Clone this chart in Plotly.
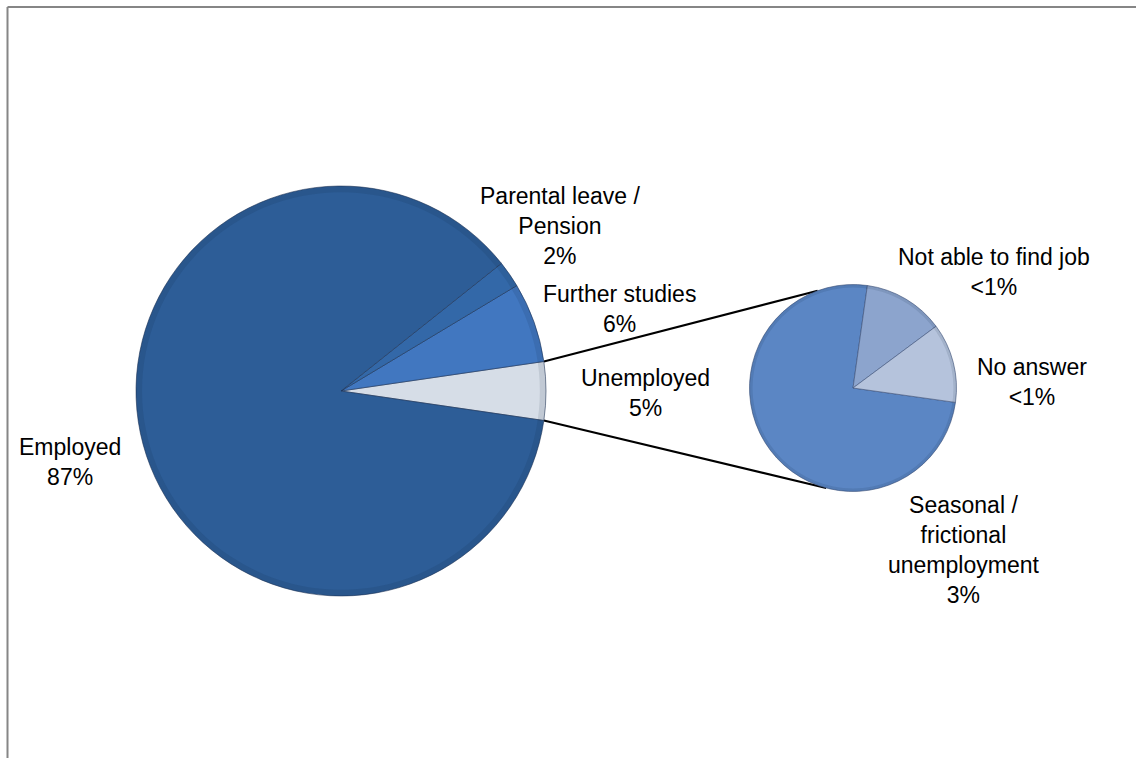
import math
import plotly.graph_objects as go

# Main pie: employment status of graduates (share of respondents, %)
main_labels = ["Unemployed", "Further studies", "Parental leave /<br>Pension", "Employed"]
main_values = [4.6, 6.3, 2.1, 87.0]
main_colors = ["#D6DDE7", "#4177C0", "#3368A8", "#2D5D97"]

# Secondary pie: breakdown of the "Unemployed" slice (share of respondents, %)
sub_labels = ["Seasonal /<br>frictional<br>unemployment", "Not able to find job", "No answer"]
sub_values = [3.45, 0.58, 0.57]
sub_colors = ["#5B86C4", "#8CA4CD", "#B5C3DC"]

W, H = 1136, 758
FONT = "Liberation Sans, Arial, sans-serif"


def px(x):
    return x / W


def py(y):
    return 1 - y / H


def pct_text(v, total):
    p = 100 * v / total
    return "<1%" if p < 1 else f"{round(p):d}%"


total = sum(main_values)

# pie geometry in pixels
mcx, mcy, mr = 341, 391, 205
scx, scy, sr = 853, 388, 103.5

# the "Unemployed" slice is centred on the 3 o'clock direction
half = 360 * main_values[0] / total / 2

main_domain = dict(x=[px(mcx - mr), px(mcx + mr)], y=[py(mcy + mr), py(mcy - mr)])
sub_domain = dict(x=[px(scx - sr), px(scx + sr)], y=[py(scy + sr), py(scy - sr)])

fig = go.Figure()
fig.add_trace(go.Pie(
    labels=main_labels, values=main_values, sort=False,
    direction="counterclockwise", rotation=90 - half,
    marker=dict(colors=main_colors, line=dict(color="rgba(25,45,80,0.55)", width=1)),
    textinfo="none", hoverinfo="label+percent", showlegend=False,
    domain=main_domain,
))
fig.add_trace(go.Pie(
    labels=sub_labels, values=sub_values, sort=False,
    direction="clockwise", rotation=98,
    marker=dict(colors=sub_colors, line=dict(color="rgba(60,80,120,0.6)", width=1)),
    textinfo="none", hoverinfo="label", showlegend=False,
    domain=sub_domain,
))

# soft darker rim on both pies
for dom in (main_domain, sub_domain):
    fig.add_trace(go.Pie(
        values=[1], hole=0.97, sort=False, textinfo="none", hoverinfo="skip",
        marker=dict(colors=["rgba(10,25,50,0.10)"], line=dict(width=0)),
        showlegend=False, domain=dom,
    ))

shapes = []
# connector lines from the edges of the "Unemployed" slice to the secondary pie
for a_main, a_sub in [(half, 110), (-half, -105)]:
    x0 = mcx + mr * math.cos(math.radians(a_main))
    y0 = mcy - mr * math.sin(math.radians(a_main))
    x1 = scx + sr * math.cos(math.radians(a_sub))
    y1 = scy - sr * math.sin(math.radians(a_sub))
    shapes.append(dict(type="line", xref="paper", yref="paper",
                       x0=px(x0), y0=py(y0), x1=px(x1), y1=py(y1),
                       line=dict(color="black", width=2), layer="below"))

# chart area border (top and left edges)
shapes.append(dict(type="line", xref="paper", yref="paper",
                   x0=px(7.5), y0=py(7), x1=1.01, y1=py(7),
                   line=dict(color="#868686", width=2)))
shapes.append(dict(type="line", xref="paper", yref="paper",
                   x0=px(7.5), y0=py(7), x1=px(7.5), y1=-0.01,
                   line=dict(color="#868686", width=2)))

# data labels: (label, value, centre x, centre y)
label_pos = [
    (main_labels[3], main_values[3], 70, 462),
    (main_labels[2], main_values[2], 560, 226),
    (main_labels[1], main_values[1], 619, 309),
    (main_labels[0], main_values[0], 645, 393),
    (sub_labels[1], sub_values[1], 994, 272),
    (sub_labels[2], sub_values[2], 1032, 382),
    (sub_labels[0], sub_values[0], 963, 550),
]
annotations = []
for lab, val, x, y in label_pos:
    annotations.append(dict(
        text=f"{lab}<br>{pct_text(val, total)}", x=px(x), y=py(y),
        xref="paper", yref="paper", xanchor="center", yanchor="middle",
        showarrow=False, align="center",
        font=dict(family=FONT, size=23, color="black"),
    ))

fig.update_layout(
    width=W, height=H,
    margin=dict(l=0, r=0, t=0, b=0),
    paper_bgcolor="white", plot_bgcolor="white",
    shapes=shapes, annotations=annotations,
)

fig.write_html("out.html")
